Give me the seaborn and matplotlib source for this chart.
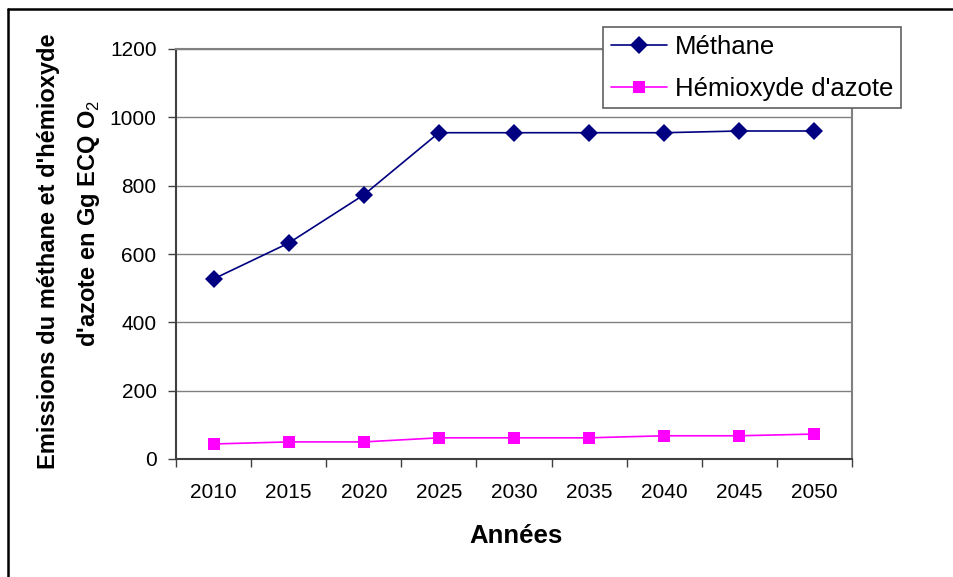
import numpy as np
import pandas as pd
import matplotlib
matplotlib.use("Agg")
import matplotlib.pyplot as plt
from matplotlib.lines import Line2D
import seaborn as sns

# donnees
annees = ["2010", "2015", "2020", "2025", "2030", "2035", "2040", "2045", "2050"]
methane = [527, 632, 773, 955, 955, 955, 955, 960, 960]
hemioxyde = [44, 50, 50, 62, 62, 62, 68, 68, 73]
series = ["Méthane", "Hémioxyde d'azote"]

sns.set_theme(style="white")
plt.rcParams['font.family'] = ['Liberation Sans', 'DejaVu Sans']
plt.rcParams['text.color'] = 'black'
plt.rcParams['xtick.color'] = 'black'
plt.rcParams['ytick.color'] = 'black'
plt.rcParams['mathtext.fontset'] = 'custom'
plt.rcParams['mathtext.rm'] = 'Liberation Sans'
plt.rcParams['mathtext.bf'] = 'Liberation Sans:bold'

pos = np.arange(len(annees))
df = pd.DataFrame({
    'pos': np.concatenate([pos, pos]),
    'valeur': methane + hemioxyde,
    'serie': [series[0]] * len(annees) + [series[1]] * len(annees),
})

fig = plt.figure(figsize=(9.54, 5.77), dpi=100)
ax = fig.add_axes([176 / 954, 1 - 459 / 577, 676 / 954, 410 / 577])

couleurs = {series[0]: '#000080', series[1]: '#FF00FF'}
marqueurs = {series[0]: 'D', series[1]: 's'}
sns.lineplot(data=df, x='pos', y='valeur', hue='serie', style='serie',
             palette=couleurs, markers=marqueurs, dashes=False,
             linewidth=1.2, markersize=9, markeredgewidth=0, ax=ax,
             legend=False, zorder=3)

ax.set_xlim(-0.5, len(annees) - 0.5)
ax.set_ylim(0, 1200)
ax.set_yticks(np.arange(0, 1201, 200))
ax.yaxis.grid(True, color='#808080', linewidth=1)
ax.set_axisbelow(True)

# ticks entre les categories, etiquettes au centre
ax.set_xticks(np.arange(-0.5, len(annees), 1))
ax.set_xticklabels([])
ax.set_xticks(pos, minor=True)
ax.set_xticklabels(annees, minor=True)
ax.tick_params(axis='x', which='major', direction='out', length=6, width=1, color='#404040')
ax.tick_params(axis='x', which='minor', length=0, pad=17, labelsize=15)
ax.tick_params(axis='y', direction='out', length=6, width=1, color='#404040', pad=8, labelsize=15)
ax.tick_params(axis='both', which='both', bottom=True, left=True)

for cote in ['top', 'right']:
    ax.spines[cote].set_color('#808080')
    ax.spines[cote].set_linewidth(1.5)
for cote in ['left', 'bottom']:
    ax.spines[cote].set_color('#404040')
    ax.spines[cote].set_linewidth(1.5)

ax.set_xlabel('')
ax.set_ylabel('')
fig.text(49 / 954, 1 - 251 / 577, "Emissions du méthane et d'hémioxyde",
         rotation=90, ha='center', va='center', fontsize=17, fontweight='bold')
fig.text(89 / 954, 1 - 223 / 577, "d'azote en Gg ECQ O$_2$",
         rotation=90, ha='center', va='center', fontsize=17, fontweight='bold')
fig.text(516 / 954, 1 - 536 / 577, "Années", ha='center', va='center',
         fontsize=18.5, fontweight='bold')

poignees = [Line2D([], [], color=couleurs[s], marker=marqueurs[s], markersize=9,
                   markeredgewidth=0, linewidth=1.2) for s in series]
leg = fig.legend(poignees, series, loc='upper left',
                 bbox_to_anchor=(603 / 954, 1 - 27 / 577), fontsize=18.5,
                 frameon=True, fancybox=False, framealpha=1, edgecolor='#606060',
                 handlelength=2.2, labelspacing=0.7, borderpad=0.3,
                 handletextpad=0.3, borderaxespad=0)
leg.get_frame().set_linewidth(1.2)

# cadre exterieur (haut et gauche seulement visibles)
fig.add_artist(Line2D([8 / 954, 1], [1 - 9 / 577, 1 - 9 / 577],
                      transform=fig.transFigure, color='black', linewidth=1.8))
fig.add_artist(Line2D([8 / 954, 8 / 954], [1 - 9 / 577, 0],
                      transform=fig.transFigure, color='black', linewidth=1.8))

fig.savefig('out.png', dpi=100)
